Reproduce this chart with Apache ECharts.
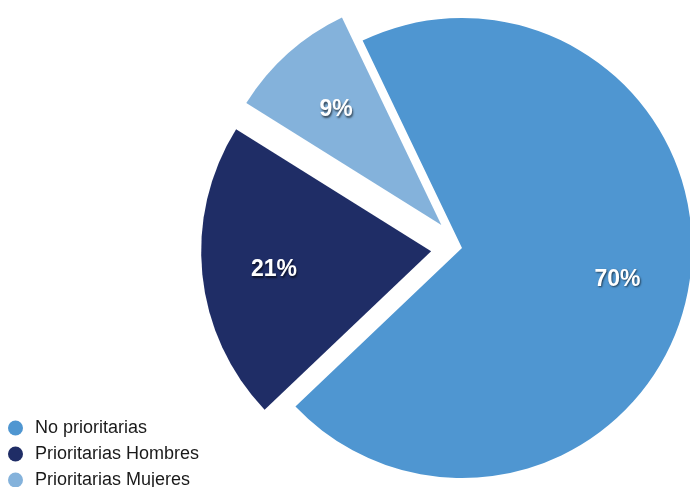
<!DOCTYPE html>
<html>
<head>
<meta charset="utf-8">
<script src="https://cdn.jsdelivr.net/npm/echarts@6/dist/echarts.min.js"></script>
<style>
html,body{margin:0;padding:0;background:#fff;}
#chart{width:690px;height:487px;}
</style>
</head>
<body>
<div id="chart"></div>
<script>
const categories = ['No prioritarias', 'Prioritarias Hombres', 'Prioritarias Mujeres'];
const values = [70, 21, 9];
const exploded = [false, true, true];
const colors = ['#4F96D1', '#1F2D66', '#84B2DB'];

const chart = echarts.init(document.getElementById('chart'), null, {renderer: 'canvas'});

const baseData = categories.map((n, i) => ({
  name: n, value: values[i], selected: exploded[i],
  itemStyle: {color: colors[i]}
}));
const labelData = categories.map((n, i) => ({
  name: n, value: values[i], selected: exploded[i],
  itemStyle: {color: 'rgba(0,0,0,0)'}
}));

const common = {
  type: 'pie',
  center: [462, 248],
  startAngle: 115.6,
  clockwise: true,
  selectedMode: 'multiple',
  selectedOffset: 31,
  avoidLabelOverlap: false,
  animation: false,
  emphasis: {disabled: true},
  labelLine: {show: false}
};

chart.setOption({
  animation: false,
  legend: {
    orient: 'vertical',
    left: 3,
    top: 414,
    height: 100,
    icon: 'circle',
    itemWidth: 15,
    itemHeight: 15,
    itemGap: 8,
    selectedMode: false,
    data: categories,
    textStyle: {fontFamily: 'Liberation Sans, Arial, sans-serif', fontSize: 18, color: '#1a1a1a', padding: [0, 0, 0, 7]}
  },
  series: [
    Object.assign({}, common, {
      name: 'base',
      radius: [0, 230],
      label: {show: false},
      data: baseData
    }),
    Object.assign({}, common, {
      name: 'labels',
      radius: [80, 230],
      silent: true,
      labelLayout: {dy: 3},
      label: {
        show: true,
        position: 'inside',
        formatter: '{d}%',
        color: '#fff',
        fontWeight: 'bold',
        fontSize: 23,
        fontFamily: 'Liberation Sans, Arial, sans-serif',
        textShadowColor: 'rgba(0,0,0,0.6)',
        textShadowBlur: 2,
        textShadowOffsetX: 1,
        textShadowOffsetY: 1.5
      },
      data: labelData
    })
  ]
});
</script>
</body>
</html>
